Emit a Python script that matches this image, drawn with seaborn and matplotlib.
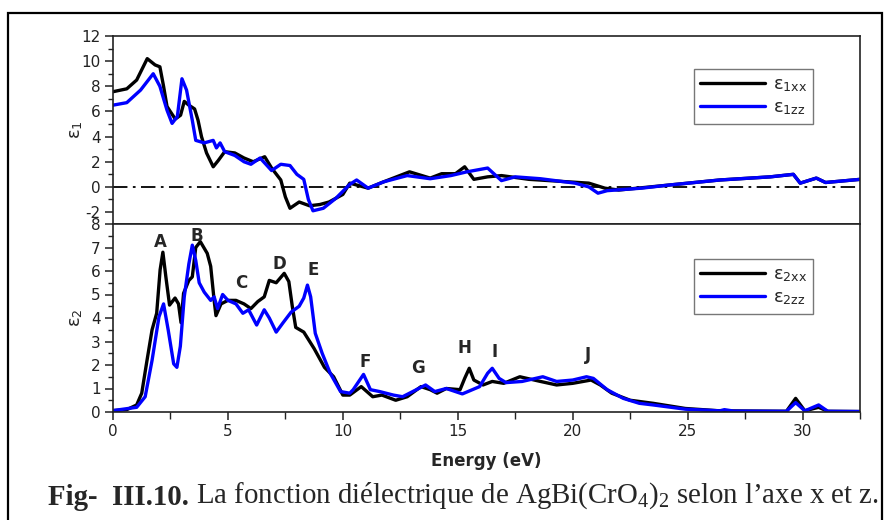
import numpy as np
import pandas as pd
import matplotlib
matplotlib.use("Agg")
import matplotlib.pyplot as plt
import seaborn as sns
from matplotlib.ticker import MultipleLocator
from matplotlib.patches import Rectangle
from matplotlib.lines import Line2D

# ---------------- data ----------------
e1xx_E = [0, 0.6, 1.03, 1.49, 1.83, 2.04, 2.2, 2.35, 2.49, 2.71, 2.94, 3.1, 3.3, 3.55, 3.7,
          3.85, 4.07, 4.36, 4.58, 4.86, 5.3, 5.7, 6.1, 6.6, 6.9, 7.3, 7.5, 7.7, 8.1, 8.55,
          9.0, 9.4, 10.0, 10.3, 11.1, 11.77, 12.9, 13.8, 14.3, 14.9, 15.3, 15.7, 16.3, 16.9, 18.1,
          19.4, 20.7, 21.4, 22.0, 24.2, 26.4, 28.6, 29.6, 29.9, 30.6, 31.0, 32.5]
e1xx = [7.57, 7.8, 8.5, 10.2, 9.7, 9.55, 8.0, 6.4, 6.0, 5.4, 5.7, 6.8, 6.5, 6.2, 5.3,
        4.0, 2.7, 1.6, 2.1, 2.8, 2.7, 2.3, 2.0, 2.4, 1.5, 0.55, -0.8, -1.7, -1.2, -1.5,
        -1.4, -1.2, -0.6, 0.3, -0.1, 0.4, 1.2, 0.7, 1.05, 1.05, 1.6, 0.6, 0.8, 0.9, 0.6,
        0.45, 0.3, -0.1, -0.25, 0.15, 0.55, 0.8, 1.0, 0.3, 0.7, 0.35, 0.6]

e1zz_E = [0, 0.6, 1.2, 1.75, 2.04, 2.35, 2.57, 2.8, 3.0, 3.2, 3.45, 3.6, 3.97, 4.36, 4.5,
          4.66, 4.86, 5.3, 5.7, 6.0, 6.4, 6.9, 7.3, 7.7, 8.0, 8.3, 8.5, 8.7, 9.15, 9.7,
          10.3, 10.6, 11.1, 11.77, 12.8, 13.8, 14.7, 15.4, 16.3, 16.9, 17.5, 18.6, 20.1, 20.7, 21.1,
          21.5, 23.0, 24.2, 26.4, 28.6, 29.6, 29.9, 30.6, 31.0, 32.5]
e1zz = [6.5, 6.7, 7.7, 9.0, 8.0, 6.1, 5.05, 5.6, 8.6, 7.7, 5.3, 3.7, 3.5, 3.7, 3.1,
        3.5, 2.8, 2.5, 2.0, 1.8, 2.3, 1.3, 1.8, 1.7, 1.0, 0.6, -1.0, -1.9, -1.7, -0.9,
        0.2, 0.55, -0.1, 0.4, 0.9, 0.65, 0.9, 1.2, 1.5, 0.5, 0.8, 0.65, 0.3, 0.0, -0.5,
        -0.3, -0.1, 0.15, 0.55, 0.8, 1.0, 0.3, 0.7, 0.35, 0.6]

e2xx_E = [0, 0.6, 1.03, 1.25, 1.48, 1.7, 1.9, 2.05, 2.17, 2.3, 2.46, 2.7, 2.85, 2.96, 3.07,
          3.3, 3.45, 3.6, 3.8, 4.1, 4.25, 4.4, 4.48, 4.7, 5.0, 5.35, 5.7, 6.0, 6.3, 6.58,
          6.8, 7.1, 7.45, 7.65, 7.8, 7.95, 8.3, 8.75, 9.2, 9.6, 10.0, 10.3, 10.8, 11.3, 11.7,
          12.3, 12.8, 13.4, 13.8, 14.1, 14.5, 15.1, 15.3, 15.5, 15.7, 16.1, 16.5, 17.0, 17.7, 18.6,
          19.3, 20.0, 20.8, 21.2, 21.7, 22.5, 23.5, 24.9, 26.4, 29.3, 29.7, 30.1, 30.7, 31.1, 32.5]
e2xx = [0.06, 0.1, 0.3, 0.8, 2.2, 3.5, 4.2, 6.05, 6.8, 5.75, 4.55, 4.85, 4.6, 3.8, 5.05,
        5.6, 5.75, 7.0, 7.25, 6.75, 6.2, 4.75, 4.1, 4.6, 4.75, 4.75, 4.6, 4.4, 4.7, 4.9,
        5.6, 5.5, 5.9, 5.55, 4.5, 3.6, 3.4, 2.7, 1.9, 1.5, 0.72, 0.72, 1.08, 0.65, 0.72,
        0.5, 0.65, 1.08, 0.95, 0.8, 1.0, 0.95, 1.43, 1.86, 1.36, 1.15, 1.3, 1.22, 1.5, 1.3,
        1.15, 1.22, 1.36, 1.15, 0.8, 0.5, 0.37, 0.15, 0.05, 0.03, 0.58, 0.05, 0.2, 0.03, 0.02]

e2zz_E = [0, 1.03, 1.4, 1.7, 2.0, 2.2, 2.4, 2.64, 2.78, 2.93, 3.1, 3.3, 3.45, 3.6, 3.75,
          3.97, 4.25, 4.4, 4.55, 4.77, 5.0, 5.35, 5.65, 5.9, 6.25, 6.58, 6.8, 7.1, 7.4, 7.75,
          8.1, 8.3, 8.46, 8.6, 8.8, 9.1, 9.45, 9.9, 10.3, 10.45, 10.9, 11.2, 11.6, 12.2, 12.6,
          13.2, 13.6, 14.0, 14.5, 15.2, 15.95, 16.3, 16.5, 16.8, 17.1, 17.8, 18.7, 19.3, 20.0, 20.6,
          20.9, 21.5, 22.2, 22.9, 23.5, 24.9, 26.4, 26.6, 27.0, 29.3, 29.7, 30.1, 30.7, 31.1, 32.5]
e2zz = [0.06, 0.2, 0.65, 2.2, 4.05, 4.6, 3.5, 2.05, 1.9, 2.8, 4.9, 6.3, 7.1, 6.45, 5.5,
        5.1, 4.75, 4.9, 4.4, 5.0, 4.75, 4.6, 4.2, 4.35, 3.7, 4.35, 4.0, 3.4, 3.8, 4.25,
        4.5, 4.85, 5.4, 4.9, 3.35, 2.5, 1.65, 0.87, 0.8, 0.95, 1.6, 0.95, 0.87, 0.72, 0.65,
        0.95, 1.15, 0.87, 1.0, 0.77, 1.08, 1.65, 1.86, 1.43, 1.25, 1.3, 1.5, 1.3, 1.36, 1.5,
        1.43, 0.95, 0.58, 0.37, 0.3, 0.12, 0.05, 0.1, 0.04, 0.03, 0.4, 0.05, 0.3, 0.03, 0.02]

peak_labels = ["A", "B", "C", "D", "E", "F", "G", "H", "I", "J"]
peak_E = [2.04, 3.64, 5.6, 7.26, 8.7, 10.96, 13.26, 15.3, 16.6, 20.65]
peak_v = [7.25, 7.5, 5.5, 6.3, 6.05, 2.14, 1.87, 2.72, 2.57, 2.43]

legend1 = [r"ε$_{\mathsf{1xx}}$", r"ε$_{\mathsf{1zz}}$"]
legend2 = [r"ε$_{\mathsf{2xx}}$", r"ε$_{\mathsf{2zz}}$"]
colors = ["#000000", "#0000ff"]

# ---------------- style ----------------
sns.set_style("ticks")
plt.rcParams["font.family"] = ["DejaVu Sans"]
plt.rcParams["axes.unicode_minus"] = False
plt.rcParams["mathtext.fontset"] = "custom"
plt.rcParams["mathtext.rm"] = "Liberation Serif"
plt.rcParams["mathtext.sf"] = "DejaVu Sans"
plt.rcParams["mathtext.it"] = "Liberation Serif:italic"
plt.rcParams["mathtext.bf"] = "Liberation Serif:bold"

W, H = 888, 520
fig = plt.figure(figsize=(W / 100, H / 100), dpi=100)
ax1 = fig.add_axes([113 / W, 1 - 224 / H, 747 / W, 188 / H])
ax2 = fig.add_axes([113 / W, 1 - 412 / H, 747 / W, 188 / H])

def make_df(E, v, name):
    return pd.DataFrame({"E": E, "v": v, "s": name})

df1 = pd.concat([make_df(e1xx_E, e1xx, "xx"), make_df(e1zz_E, e1zz, "zz")])
df2 = pd.concat([make_df(e2xx_E, e2xx, "xx"), make_df(e2zz_E, e2zz, "zz")])
pal = {"xx": colors[0], "zz": colors[1]}

for ax, df in ((ax1, df1), (ax2, df2)):
    sns.lineplot(data=df, x="E", y="v", hue="s", palette=pal, sort=False,
                 estimator=None, linewidth=2.4, legend=False, ax=ax)
    for ln in ax.lines:
        ln.set_solid_joinstyle("round")
        ln.set_solid_capstyle("round")

ax1.axhline(0, color="black", lw=1.3, ls=(0, (8, 3, 1.5, 3)), zorder=1)

ax1.set_xlim(0, 32.5)
ax2.set_xlim(0, 32.5)
ax1.set_ylim(-2.95, 12)
ax2.set_ylim(0, 8)

for ax in (ax1, ax2):
    ax.set_xlabel("")
    ax.set_ylabel("")
    for sp in ax.spines.values():
        sp.set_visible(True)
        sp.set_linewidth(1.2)
        sp.set_color("#222222")
    ax.tick_params(axis="both", which="major", direction="out", length=6, width=1.1,
                   labelsize=11, colors="#222222", pad=3)
    ax.tick_params(axis="both", which="minor", direction="out", length=3.5, width=1.0,
                   colors="#222222")
    ax.tick_params(top=False, right=False, which="both")

ax1.yaxis.set_major_locator(MultipleLocator(2))
ax1.yaxis.set_minor_locator(MultipleLocator(1))
ax1.tick_params(axis="x", which="both", bottom=False, labelbottom=False)
ax2.yaxis.set_major_locator(MultipleLocator(1))
ax2.yaxis.set_minor_locator(MultipleLocator(0.5))
ax2.xaxis.set_major_locator(MultipleLocator(5))
ax2.xaxis.set_minor_locator(MultipleLocator(2.5))
ax2.tick_params(axis="x", which="minor", length=5)

for lab, x, y in zip(peak_labels, peak_E, peak_v):
    ax2.text(x, y, lab, ha="center", va="center", fontsize=12, fontweight="bold")

for ax, labs, anchor in ((ax1, legend1, 0.824), (ax2, legend2, 0.814)):
    handles = [Line2D([], [], color=c, lw=2.4) for c in colors]
    leg = ax.legend(handles, labs, loc="upper left", bbox_to_anchor=(0.778, anchor),
                    fontsize=13, frameon=True, fancybox=False, handlelength=3.6,
                    borderpad=0.35, labelspacing=0.25, handletextpad=0.4,
                    borderaxespad=0)
    fr = leg.get_frame()
    fr.set_edgecolor("#777777")
    fr.set_linewidth(1.0)
    fr.set_alpha(1)

fig.text(76 / W, 1 - 130 / H, r"ε$_{\mathsf{1}}$", rotation=90, ha="center", va="center", fontsize=13)
fig.text(76 / W, 1 - 318 / H, r"ε$_{\mathsf{2}}$", rotation=90, ha="center", va="center", fontsize=13)
fig.text(486.5 / W, 1 - 461 / H, "Energy (eV)", ha="center", va="center",
         fontsize=12, fontweight="bold")

# caption
t1 = fig.text(48 / W, 1 - 505 / H, "Fig-  III.10.", ha="left", va="baseline",
              fontsize=20.8, fontweight="bold", family="Liberation Serif")
fig.canvas.draw()
t2 = plt.annotate(" La fonction diélectrique de AgBi(CrO$_{\\mathrm{4}}$)$_{\\mathrm{2}}$ selon l’axe x et z.",
                  xy=(1, 0), xycoords=t1, va="bottom", ha="left",
                  fontsize=20.8, family="Liberation Serif", annotation_clip=False)

# outer frame
fig.add_artist(Rectangle((8 / W, -0.05), (882 - 8) / W, 1.05 - 13 / H, transform=fig.transFigure,
                         fill=False, edgecolor="black", linewidth=1.6))

fig.savefig("out.png", dpi=100)
